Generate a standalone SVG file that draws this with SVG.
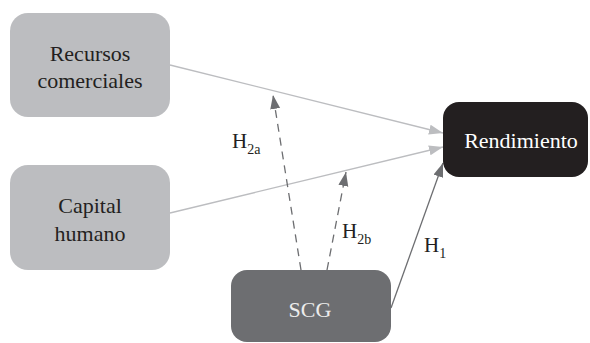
<svg xmlns="http://www.w3.org/2000/svg" width="590" height="343" viewBox="0 0 590 343">
<defs>
<style>
.lt{fill:#bcbdc0}
.lbl{font-family:"Liberation Serif","Times New Roman",serif;font-size:21px;fill:#231f20;text-anchor:start}
.nt{font-family:"Liberation Serif","Times New Roman",serif;font-size:22px;fill:#231f20;text-anchor:middle}
.sub{font-size:14px}
.con{fill:none;stroke-width:1.3}
</style>
<marker id="al" markerUnits="userSpaceOnUse" markerWidth="15" markerHeight="11" refX="14" refY="5" orient="auto"><path d="M0,0 L14,5 L0,10 Z" fill="#bcbdc0"/></marker>
<marker id="ad" markerUnits="userSpaceOnUse" markerWidth="15" markerHeight="11" refX="14" refY="5" orient="auto"><path d="M0,0 L14,5 L0,10 Z" fill="#6d6e71"/></marker>
</defs>
<g id="connectors">
<line class="con" x1="170" y1="65" x2="443" y2="133" stroke="#bcbdc0" marker-end="url(#al)"/>
<line class="con" x1="170" y1="213" x2="443" y2="147" stroke="#bcbdc0" marker-end="url(#al)"/>
<line class="con" x1="391" y1="308" x2="443" y2="163" stroke="#6d6e71" marker-end="url(#ad)"/>
<line class="con" x1="301" y1="270" x2="273" y2="95" stroke="#6d6e71" stroke-dasharray="8,6" marker-end="url(#ad)"/>
<line class="con" x1="327" y1="270" x2="346" y2="172" stroke="#6d6e71" stroke-dasharray="8,6" marker-end="url(#ad)"/>
</g>
<g id="recursos">
<rect class="lt" x="10" y="13" width="160" height="104" rx="18"/>
<text class="nt" x="90" y="61">Recursos</text>
<text class="nt" x="90" y="88">comerciales</text>
</g>
<g id="capital">
<rect class="lt" x="10" y="165" width="160" height="105" rx="18"/>
<text class="nt" x="90" y="213">Capital</text>
<text class="nt" x="90" y="241">humano</text>
</g>
<g id="scg">
<rect x="231" y="270" width="160" height="72" rx="16" fill="#6d6e71"/>
<text class="nt" x="310" y="317" style="fill:#ececec">SCG</text>
</g>
<g id="rendimiento">
<rect x="443" y="102" width="145" height="75" rx="16" fill="#231f20"/>
<text class="nt" x="521" y="148" style="fill:#ffffff">Rendimiento</text>
</g>
<g id="labels">
<text class="lbl" x="232" y="148">H<tspan class="sub" dy="6">2a</tspan></text>
<text class="lbl" x="342" y="238">H<tspan class="sub" dy="6">2b</tspan></text>
<text class="lbl" x="424" y="252">H<tspan class="sub" dy="6">1</tspan></text>
</g>
</svg>
